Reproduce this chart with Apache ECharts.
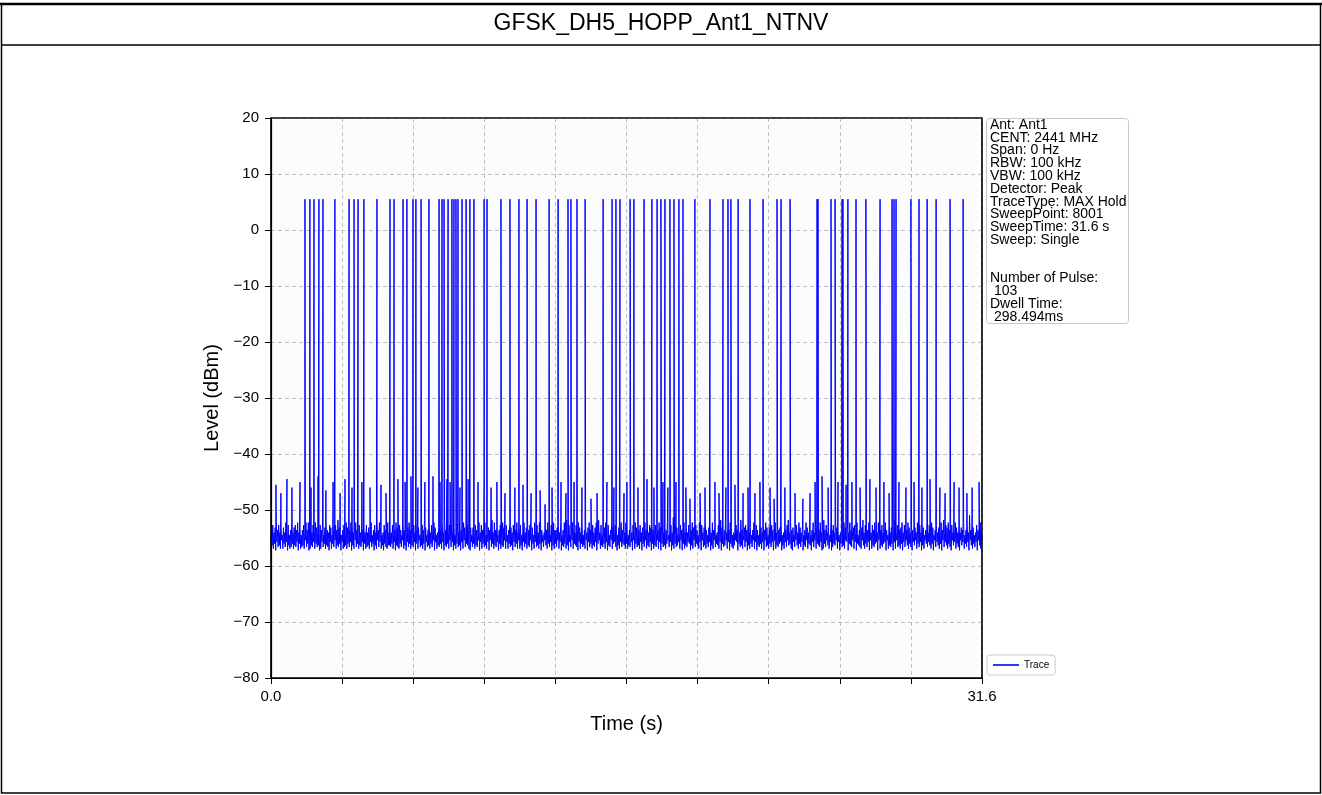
<!DOCTYPE html>
<html>
<head>
<meta charset="utf-8">
<script src="https://cdn.jsdelivr.net/npm/echarts@6/dist/echarts.min.js"></script>
<style>
html,body{margin:0;padding:0;background:#fff;}
#c{width:1322px;height:795px;}
</style>
</head>
<body>
<div id="c"></div>
<script>
// ---- data ----
const titleText = 'GFSK_DH5_HOPP_Ant1_NTNV';
const sweepTime = 31.6;          // s
const pulseLevel = 5.5;          // dBm
// pulse times (s)
const pulseTimes = [1.51,1.73,1.91,2.13,2.31,2.84,3.47,3.69,3.87,4.13,4.71,5.29,5.47,5.87,6.04,
  6.31,6.44,6.67,7.02,7.47,7.60,7.69,7.87,8.04,8.13,8.22,8.31,8.49,8.67,8.84,9.02,9.47,9.60,
  10.22,10.62,11.02,11.38,11.78,12.36,12.76,13.20,13.33,13.60,13.96,14.76,15.16,15.33,15.51,
  15.96,16.13,16.58,16.93,17.16,17.33,17.51,17.73,17.91,18.13,18.31,18.84,19.51,20.09,20.31,
  20.44,20.76,21.29,21.87,22.49,22.67,23.07,24.27,24.31,24.89,25.07,25.38,25.42,25.64,26.00,
  26.44,27.07,27.60,27.69,27.78,28.44,28.80,29.16,29.56,30.18,30.76];
// tall noise spikes: times (s) and levels (dBm)
const spikeTimes = [0.22,0.44,0.71,0.93,1.29,1.78,2.09,2.44,2.76,3.07,3.29,3.60,4.04,4.40,4.89,5.11,
  5.64,5.96,6.22,6.53,6.84,7.20,7.51,7.82,7.96,8.40,8.76,9.20,9.47,9.78,10.04,10.40,10.84,11.20,
  11.56,11.96,12.18,12.49,12.89,13.11,13.47,13.82,14.22,14.49,14.93,15.24,15.69,15.82,16.31,16.71,
  17.02,17.42,17.64,18.00,18.44,18.62,19.07,19.29,19.73,19.91,20.22,20.62,20.98,21.20,21.51,21.73,
  22.18,22.36,22.84,23.29,23.64,23.96,24.18,24.49,24.76,25.20,25.56,25.82,26.18,26.62,26.89,27.24,
  27.47,27.91,28.22,28.58,28.93,29.29,29.73,29.96,30.36,30.58,30.93,31.16,31.47];
const spikeLevels = [-45.5,-47,-44.5,-46,-45,-46,-44,-46.5,-45,-47,-44.5,-46,-45,-46,-45.5,-47,
  -44.5,-45,-44,-46,-45,-44,-45,-44.5,-45,-46,-44.5,-45,-44,-46,-45,-47,-46,-45.5,
  -47,-46.5,-49,-46,-45,-47,-45,-46,-48,-47,-45,-46,-47,-45,-46,-44.5,
  -46,-45,-46,-45,-46,-48,-47,-46,-45,-47,-46,-45.5,-47,-46,-47,-45,
  -46,-48,-46,-47,-48,-47,-45,-44,-46,-45,-45.5,-45,-46,-44.5,-46,-45,
  -47,-45,-46,-45,-46,-44.5,-46,-47,-45,-46,-47,-46,-45];
// noise floor, hand-read digits, upper edge: level = -54.5 + d*0.45 dBm
const floorHighDigits =
 '2413524130315240251342513024152503142531142503521430514263102415302541352041523141325024162530142351' +
 '3140253142052413520341523014263025142530134251620342513025142053142530314205142350132461523024153140' +
 '2531402513402513624130524153201425304152234150253614025314253150241352041352614023514025314203152415' +
 '3025141530241305261435204125314132502417253014235131402531420524135203415230142630251425301342516203' +
 '4251302514205314253031420514235013246152302415314025314025134025136241305241532014253041522341502536' +
 '1402531425315024135204135261402351402531420315241530251415302413052614352041253141325024182530142351';
// noise floor, lower edge: level = -57.5 + d*0.3 dBm
const floorLowDigits =
 '3425163427253614235243615234273512436253412635243162537243516234253614273524361523426351427362415324' +
 '4352614325372416352436152734251634253716243526143527361425341627354216352437162534261735243615243726' +
 '2534163527241635243715263425163742536142537261435241637254316253427163524361572435261437256314263542' +
 '5243617253426153724361524372615342573614253462715243651427354261734253614273542615347261532476153427' +
 '3614253726143526173425361724356142637452163742536143725416372543612537426135472615342761543726154327' +
 '4253617243561724356172435162734251637425316472536142753642517364251736425317462531746253617425361742';
const yTicks = [-80,-70,-60,-50,-40,-30,-20,-10,0,10,20];
const infoLines = ['Ant: Ant1','CENT: 2441 MHz','Span: 0 Hz','RBW: 100 kHz','VBW: 100 kHz','Detector: Peak',
  'TraceType: MAX Hold','SweepPoint: 8001','SweepTime: 31.6 s','Sweep: Single','','',
  'Number of Pulse:',' 103','Dwell Time:',' 298.494ms'];

// ---- build trace ----
const pts = [];
const nL = floorLowDigits.length, nH = floorHighDigits.length;
for (let i = 0; i < nL; i++) pts.push([i * sweepTime / nL, -57.5 + (+floorLowDigits[i]) * 0.3]);
for (let i = 0; i < nH; i++) pts.push([(i + 0.5) * sweepTime / nH, -54.5 + (+floorHighDigits[i]) * 0.45]);
spikeTimes.forEach((t, i) => pts.push([t, spikeLevels[i]]));
pulseTimes.forEach(t => pts.push([t, pulseLevel]));
pts.push([sweepTime, -55.5]);
pts.sort((a, b) => a[0] - b[0]);

const chart = echarts.init(document.getElementById('c'), null, {renderer: 'canvas'});
const FONT = '"Liberation Sans", Arial, sans-serif';
const minus = v => String(v).replace('-', '\u2212');

chart.setOption({
  animation: false,
  backgroundColor: '#ffffff',
  textStyle: {fontFamily: FONT},
  grid: {left: 271, right: 340, top: 118, bottom: 117, show: true,
    backgroundColor: '#fcfcfc', borderColor: '#000', borderWidth: 1.2},
  xAxis: {
    type: 'value', min: 0, max: sweepTime, interval: sweepTime / 10,
    name: 'Time (s)', nameLocation: 'middle', nameGap: 36,
    nameTextStyle: {fontSize: 20, color: '#000', fontFamily: FONT},
    axisLine: {show: true, onZero: false, lineStyle: {color: '#000', width: 1.2}},
    axisTick: {show: true, length: 6, lineStyle: {color: '#000', width: 1}},
    axisLabel: {fontSize: 15, color: '#000', margin: 11, fontFamily: FONT,
      formatter: v => (v < 0.01 ? '0.0' : (v > sweepTime - 0.05 ? '31.6' : ''))},
    splitLine: {show: true, lineStyle: {color: '#b0b0b0', type: [4, 3], width: 0.8}}
  },
  yAxis: {
    type: 'value', min: yTicks[0], max: yTicks[yTicks.length - 1], interval: 10,
    name: 'Level (dBm)', nameLocation: 'middle', nameGap: 46,
    nameTextStyle: {fontSize: 20, color: '#000', fontFamily: FONT},
    axisLine: {show: true, onZero: false, lineStyle: {color: '#000', width: 1.2}},
    axisTick: {show: true, length: 6, lineStyle: {color: '#000', width: 1}},
    axisLabel: {fontSize: 15, color: '#000', margin: 12, fontFamily: FONT, formatter: minus},
    splitLine: {show: true, lineStyle: {color: '#b0b0b0', type: [4, 3], width: 0.8}}
  },
  legend: {
    show: true, left: 987, top: 655, orient: 'vertical',
    backgroundColor: '#fff', borderColor: '#cccccc', borderWidth: 1, borderRadius: 3,
    padding: [5, 6, 5, 6], itemWidth: 26, itemHeight: 10,
    textStyle: {fontSize: 10, color: '#000', fontFamily: FONT},
    data: [{name: 'Trace', icon: 'path://M0,4.2 L26,4.2 L26,5.8 L0,5.8 Z'}]
  },
  series: [{
    name: 'Trace', type: 'line', data: pts, showSymbol: false, symbol: 'none',
    sampling: null, lineStyle: {color: '#0000ff', width: 1}, itemStyle: {color: '#0000ff'},
    clip: true
  }],
  graphic: [
    {type: 'rect', shape: {x: 1.5, y: 4, width: 1319, height: 789}, style: {fill: 'none', stroke: '#000', lineWidth: 1.5}},
    {type: 'line', shape: {x1: 1.5, y1: 45, x2: 1320.5, y2: 45}, style: {stroke: '#000', lineWidth: 1.5}},
    {type: 'line', shape: {x1: 0, y1: 4, x2: 1322, y2: 4}, style: {stroke: '#000', lineWidth: 2.5}},
    {type: 'text', left: 'center', top: 12, style: {text: titleText, font: '23px ' + FONT, fill: '#000'}},
    {type: 'rect', z: 100, shape: {x: 271, y: 118, width: 711, height: 560}, style: {fill: 'none', stroke: '#000', lineWidth: 1.2}},
    {type: 'rect', shape: {x: 986.5, y: 118.5, width: 142, height: 205, r: 3},
      style: {fill: '#fff', stroke: '#c8c8c8', lineWidth: 1}},
    {type: 'text', left: 990, top: 118,
      style: {text: infoLines.join('\n'), font: '14px ' + FONT, lineHeight: 12.8, fill: '#000'}}
  ]
});
</script>
</body>
</html>
